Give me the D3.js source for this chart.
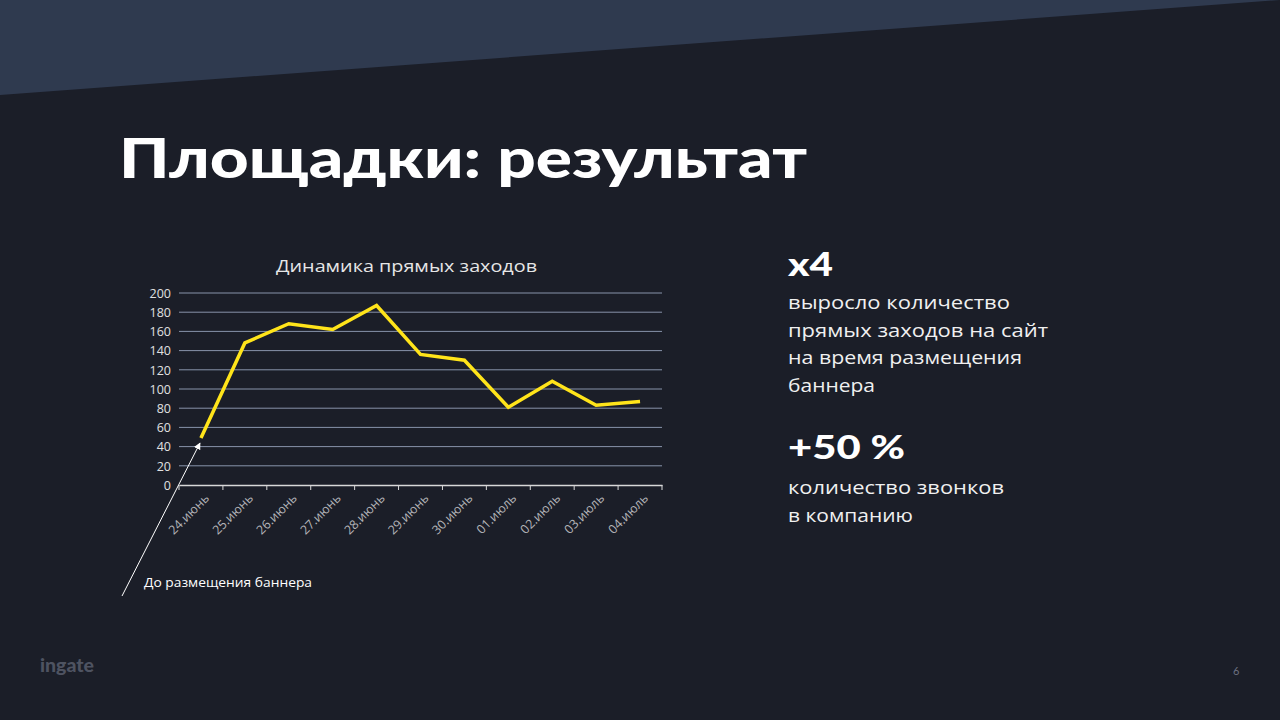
<!DOCTYPE html>
<html><head><meta charset="utf-8">
<script src="https://cdn.jsdelivr.net/npm/d3@7/dist/d3.min.js"></script>
<style>
html,body{margin:0;padding:0;background:#1b1e28;}
svg{display:block;}
</style></head>
<body>
<svg id="c" width="1280" height="720"></svg>
<script>
const categories = ["24.июнь","25.июнь","26.июнь","27.июнь","28.июнь","29.июнь","30.июнь","01.июль","02.июль","03.июль","04.июль"];
const values = [49,148,168,162,187,136,130,81,108,83,87];
const yTicks = [0,20,40,60,80,100,120,140,160,180,200];
const body1 = ["выросло количество","прямых заходов на сайт","на время размещения","баннера"];
const body2 = ["количество звонков","в компанию"];

const svg = d3.select("#c");
const FONT = "Lato, 'Open Sans', sans-serif";
const BFONT = "'Open Sans', Lato, sans-serif";

svg.append("rect").attr("width",1280).attr("height",720).attr("fill","#1b1e28");
svg.append("path").attr("d","M0,0 L1280,0 L1280,0 L0,95 Z").attr("fill","#2f3a4f");

svg.append("text").attr("x",119).attr("y",178).attr("fill","#ffffff")
  .attr("font-family",FONT).attr("font-weight",900).attr("font-size",56)
  .attr("textLength",688).attr("lengthAdjust","spacingAndGlyphs")
  .text("Площадки: результат");

// chart
const x = d3.scaleBand().domain(categories).range([179,662]);
const y = d3.scaleLinear().domain([0,200]).range([485,293]);

svg.append("text").attr("x",276).attr("y",272)
  .attr("fill","#e6e6e6").attr("font-family",BFONT).attr("font-size",16)
  .attr("textLength",261).attr("lengthAdjust","spacingAndGlyphs")
  .text("Динамика прямых заходов");

const grid = svg.append("g");
grid.selectAll("line").data(yTicks.filter(d=>d>0)).join("line")
  .attr("x1",179).attr("x2",662).attr("y1",d=>y(d)).attr("y2",d=>y(d))
  .attr("stroke","#8893aa").attr("stroke-width",1);

const yAxis = svg.append("g").attr("transform","translate(171,0)")
  .call(d3.axisLeft(y).tickValues(yTicks).tickSize(0).tickPadding(0));
yAxis.select(".domain").remove();
yAxis.selectAll("text").attr("fill","#e0e0e0").attr("font-family",BFONT).attr("font-size",12.5).attr("dy","0.35em");

const xAxis = svg.append("g").attr("transform","translate(0,485)")
  .call(d3.axisBottom(x).tickSizeInner(0).tickSizeOuter(0));
xAxis.select(".domain").attr("stroke","#d8d8d8").attr("stroke-width",1.5);
xAxis.selectAll(".tick line").remove();
const bounds = categories.map(c=>x(c)).concat([x.range()[1]]);
svg.append("g").selectAll("line").data(bounds).join("line")
  .attr("x1",d=>d).attr("x2",d=>d).attr("y1",485).attr("y2",490)
  .attr("stroke","#d8d8d8").attr("stroke-width",1);
xAxis.selectAll(".tick text")
  .attr("fill","#b4b4b8").attr("font-family",BFONT).attr("font-size",12.5)
  .attr("text-anchor","end").attr("dy",0).attr("y",0)
  .attr("transform","translate(9,14) rotate(-45)");

const line = d3.line().x((d,i)=>x(categories[i])+x.bandwidth()/2).y(d=>y(d));
svg.append("path").datum(values).attr("d",line).attr("fill","none")
  .attr("stroke","#ffe41a").attr("stroke-width",3.5).attr("stroke-linejoin","miter");

// annotation arrow
svg.append("defs").append("marker").attr("id","ah").attr("viewBox","0 0 10 10")
  .attr("refX",9).attr("refY",5).attr("markerWidth",7).attr("markerHeight",7)
  .attr("orient","auto").attr("markerUnits","userSpaceOnUse")
  .append("path").attr("d","M0,0 L10,5 L0,10 Z").attr("fill","#ffffff");
svg.append("line").attr("x1",122).attr("y1",596).attr("x2",200).attr("y2",443)
  .attr("stroke","#ffffff").attr("stroke-width",1).attr("marker-end","url(#ah)");
svg.append("text").attr("x",144).attr("y",587).attr("fill","#ffffff")
  .attr("font-family",BFONT).attr("font-size",13)
  .attr("textLength",168).attr("lengthAdjust","spacingAndGlyphs")
  .text("До размещения баннера");

// right text
svg.append("text").attr("x",788).attr("y",276).attr("fill","#fff")
  .attr("font-family",FONT).attr("font-weight",900).attr("font-size",32)
  .attr("textLength",45).attr("lengthAdjust","spacingAndGlyphs").text("x4");
const w1 = [222,260,234,87];
svg.append("g").selectAll("text").data(body1).join("text")
  .attr("x",788).attr("y",(d,i)=>309+i*27.5).attr("fill","#f0f0f0")
  .attr("font-family",BFONT).attr("font-size",19)
  .attr("textLength",(d,i)=>w1[i]).attr("lengthAdjust","spacingAndGlyphs").text(d=>d);
svg.append("text").attr("x",788).attr("y",459).attr("fill","#fff")
  .attr("font-family",FONT).attr("font-weight",900).attr("font-size",32)
  .attr("textLength",117).attr("lengthAdjust","spacingAndGlyphs").text("+50 %");
const w2 = [216,125];
svg.append("g").selectAll("text").data(body2).join("text")
  .attr("x",788).attr("y",(d,i)=>494+i*27.5).attr("fill","#f0f0f0")
  .attr("font-family",BFONT).attr("font-size",19)
  .attr("textLength",(d,i)=>w2[i]).attr("lengthAdjust","spacingAndGlyphs").text(d=>d);

// footer
svg.append("text").attr("x",40).attr("y",672).attr("fill","#4e5361")
  .attr("font-family",FONT).attr("font-weight",900).attr("font-size",18)
  .attr("textLength",54).attr("lengthAdjust","spacingAndGlyphs").text("ingate");
svg.append("text").attr("x",1233).attr("y",675).attr("fill","#6c7080")
  .attr("font-family",FONT).attr("font-size",11).text("6");
</script>
</body></html>
